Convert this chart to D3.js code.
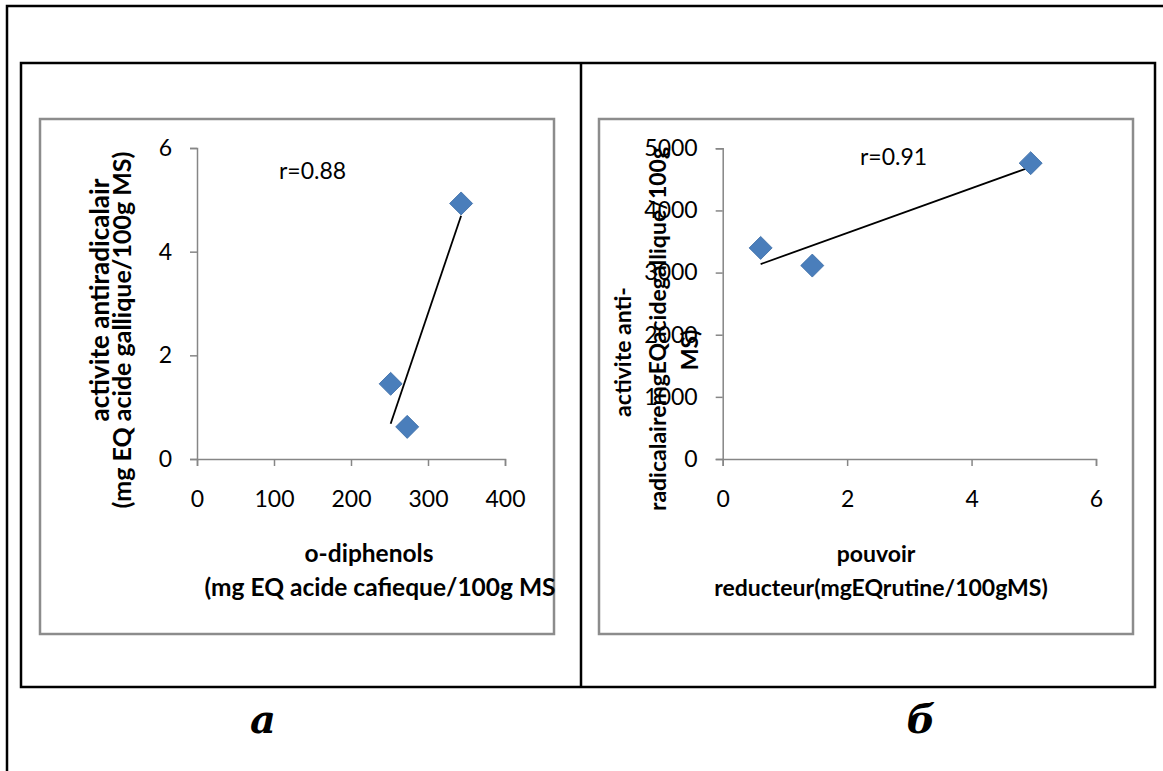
<!DOCTYPE html>
<html>
<head>
<meta charset="utf-8">
<script src="https://cdn.jsdelivr.net/npm/d3@7"></script>
<style>
  body { margin: 0; background: #fff; }
  svg text { font-family: Lato, "Open Sans", sans-serif; }
</style>
</head>
<body>
<div id="chart"></div>
<script>
// data
// chart a : o-diphenols vs activite antiradicalaire
var diphenols = [251.5, 273, 343];
var antiradA = [1.45, 0.62, 4.93];
// chart b : pouvoir reducteur vs activite antiradicalaire
var pouvoir = [0.61, 1.44, 4.95];
var antiradB = [3397, 3113, 4761];

var xTicksA = [0, 100, 200, 300, 400];
var yTicksA = [0, 2, 4, 6];
var xTicksB = [0, 2, 4, 6];
var yTicksB = [0, 1000, 2000, 3000, 4000, 5000];

var W = 1163, H = 771;
var svg = d3.select("#chart")
    .append("svg")
    .attr("width", W)
    .attr("height", H);

// outer frame (clipped on right and bottom)
svg.append("path")
    .attr("d", "M7,771 L7,6 L1163,6")
    .attr("fill", "none").attr("stroke", "#000").attr("stroke-width", 2.5);
// table
svg.append("rect")
    .attr("x", 21).attr("y", 63).attr("width", 1134).attr("height", 624)
    .attr("fill", "none").attr("stroke", "#000").attr("stroke-width", 2.5);
svg.append("line")
    .attr("x1", 581).attr("x2", 581).attr("y1", 63).attr("y2", 687)
    .attr("stroke", "#000").attr("stroke-width", 2.5);

// chart frames
[[40, 119, 514, 515], [599, 119, 534, 515]].forEach(function (f) {
    svg.append("rect")
        .attr("x", f[0]).attr("y", f[1]).attr("width", f[2]).attr("height", f[3])
        .attr("fill", "#fff").attr("stroke", "#8c8c8c").attr("stroke-width", 2.5);
});

// linear regression for the trend lines
function fit(xs, ys) {
    var mx = d3.mean(xs), my = d3.mean(ys);
    var sxy = d3.sum(xs, function (v, i) { return (v - mx) * (ys[i] - my); });
    var sxx = d3.sum(xs, function (v) { return (v - mx) * (v - mx); });
    var b = sxy / sxx;
    return function (v) { return my + b * (v - mx); };
}

function drawScatter(opt) {
    var x = d3.scaleLinear().domain(opt.xDomain).range(opt.xRange);
    var y = d3.scaleLinear().domain(opt.yDomain).range(opt.yRange);
    var g = svg.append("g");
    var fmt = function (d) { return String(d); };

    var yAxis = g.append("g")
        .attr("transform", "translate(" + opt.xRange[0] + ",0)")
        .call(d3.axisLeft(y).tickValues(opt.yTicks).tickFormat(fmt)
            .tickSize(7).tickSizeOuter(7).tickPadding(18));
    var xAxis = g.append("g")
        .attr("transform", "translate(0," + opt.yRange[0] + ")")
        .call(d3.axisBottom(x).tickValues(opt.xTicks).tickFormat(fmt)
            .tickSize(7).tickSizeOuter(7).tickPadding(25));
    [xAxis, yAxis].forEach(function (a) {
        a.select(".domain").attr("stroke", "#868686").attr("stroke-width", 1.5);
        a.selectAll(".tick line").attr("stroke", "#868686").attr("stroke-width", 1.5);
        a.selectAll(".tick text")
            .attr("fill", "#000")
            .style("font-size", "23px")
            .style("font-family", "Lato, sans-serif");
    });

    // trend line
    var f = fit(opt.xs, opt.ys);
    var x0 = d3.min(opt.xs), x1 = d3.max(opt.xs);
    g.append("line")
        .attr("x1", x(x0)).attr("y1", y(f(x0)))
        .attr("x2", x(x1)).attr("y2", y(f(x1)))
        .attr("stroke", "#000").attr("stroke-width", 1.8);

    // diamonds
    g.selectAll(".pt")
        .data(opt.xs)
        .enter()
        .append("path")
        .attr("class", "pt")
        .attr("d", d3.symbol().type(d3.symbolSquare).size(265))
        .attr("transform", function (d, i) {
            return "translate(" + x(d) + "," + y(opt.ys[i]) + ") rotate(45)";
        })
        .attr("fill", "#4a7ebb")
        .attr("stroke", "#3f6fa8")
        .attr("stroke-width", 0.8);

    // r label
    g.append("text")
        .attr("x", opt.rPos[0]).attr("y", opt.rPos[1])
        .style("font-size", "23px")
        .text(opt.rText);

    // x title
    opt.xTitle.forEach(function (t) {
        g.append("text")
            .attr("x", t[1]).attr("y", t[2])
            .attr("text-anchor", "middle")
            .style("font-size", opt.xTitleSize)
            .style("font-weight", "bold")
            .text(t[0]);
    });
    // y title
    opt.yTitle.forEach(function (t) {
        g.append("text")
            .attr("transform", "translate(" + t[1] + "," + t[2] + ") rotate(-90)")
            .attr("text-anchor", "middle")
            .style("font-size", t[3])
            .style("font-weight", "bold")
            .text(t[0]);
    });
}

// chart a
drawScatter({
    xs: diphenols, ys: antiradA,
    xDomain: [0, 400], xRange: [197, 505],
    yDomain: [0, 6], yRange: [459, 148],
    xTicks: xTicksA, yTicks: yTicksA,
    rText: "r=0.88", rPos: [279, 179],
    xTitleSize: "24.5px",
    xTitle: [["o-diphenols", 369, 562], ["(mg EQ acide cafieque/100g MS", 380, 596]],
    yTitle: [["activite antiradicalair", 109, 300, "26px"], ["(mg EQ acide gallique/100g MS)", 131, 330, "25px"]]
});

// chart b
drawScatter({
    xs: pouvoir, ys: antiradB,
    xDomain: [0, 6], xRange: [722.7, 1096],
    yDomain: [0, 5000], yRange: [459, 148.3],
    xTicks: xTicksB, yTicks: yTicksB,
    rText: "r=0.91", rPos: [860, 165],
    xTitleSize: "23px",
    xTitle: [["pouvoir", 876, 562], ["reducteur(mgEQrutine/100gMS)", 881, 596]],
    yTitle: [["activite anti-", 631, 352, "23px"], ["radicalairemgEQacidegallique/100g", 666, 329, "23px"], ["MS)", 698, 350, "23px"]]
});

// panel letters
[["a", 263], ["б", 921]].forEach(function (l) {
    svg.append("text")
        .attr("x", l[1]).attr("y", 733)
        .attr("text-anchor", "middle")
        .style("font-family", "'DejaVu Serif', 'Liberation Serif', serif")
        .style("font-style", "italic")
        .style("font-weight", "bold")
        .style("font-size", "40px")
        .text(l[0]);
});
</script>
</body>
</html>
